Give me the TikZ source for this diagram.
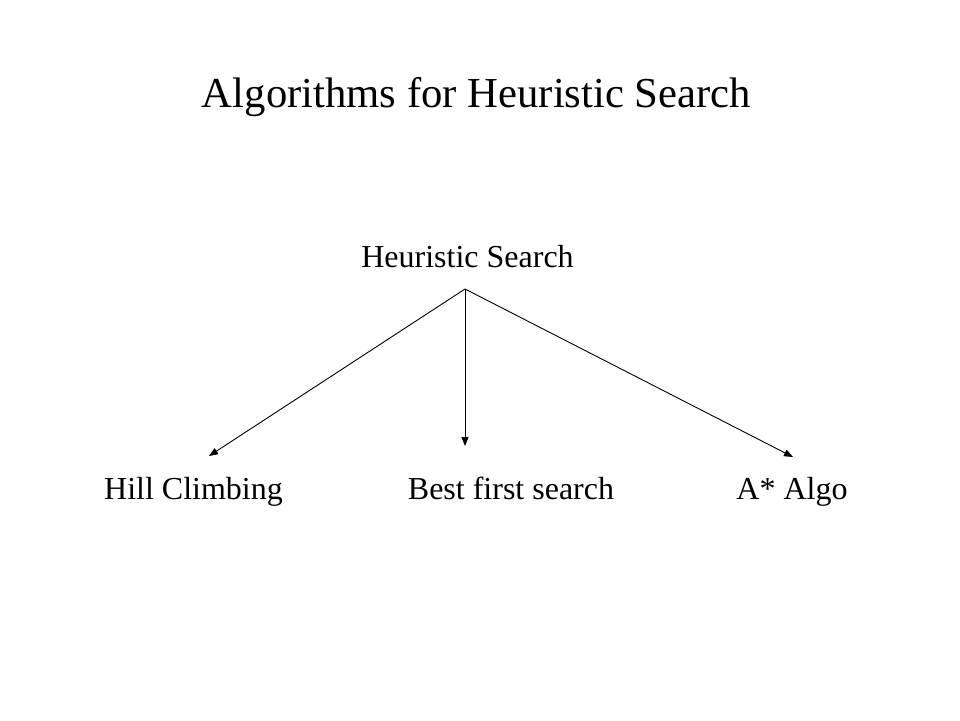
\documentclass[tikz,border=0pt]{standalone}
\usepackage{fontspec}
\setmainfont{Liberation Serif}
\usetikzlibrary{arrows.meta}
\begin{document}
\begin{tikzpicture}[
  lbl/.style={inner sep=0pt, anchor=base, font=\fontsize{32}{38}\selectfont},
  ttl/.style={inner sep=0pt, anchor=base, font=\fontsize{42.7}{50}\selectfont},
  arr/.style={-{Triangle[length=9pt,width=7pt]}, line width=0.9pt}]
  \useasboundingbox (0pt,0pt) rectangle (960pt,-720pt);

  \node[ttl] (title) at (476.5pt,-107pt) {Algorithms for Heuristic Search};
  \node[lbl] (heur)  at (467.5pt,-267pt) {Heuristic Search};

  \node[lbl] (hill) at (193.5pt,-499pt) {Hill Climbing};
  \node[lbl] (best) at (511pt,-499pt)   {Best first search};
  \node[lbl] (astar) at (792pt,-499pt)  {A* Algo};

  \coordinate (fork) at (465pt,-289pt);
  \coordinate (hilltip)  at (209pt,-456pt);
  \coordinate (besttip)  at (465pt,-446pt);
  \coordinate (astartip) at (793pt,-457pt);

  \draw[arr] (fork) -- (hilltip);
  \draw[arr] (fork) -- (besttip);
  \draw[arr] (fork) -- (astartip);
\end{tikzpicture}
\end{document}
